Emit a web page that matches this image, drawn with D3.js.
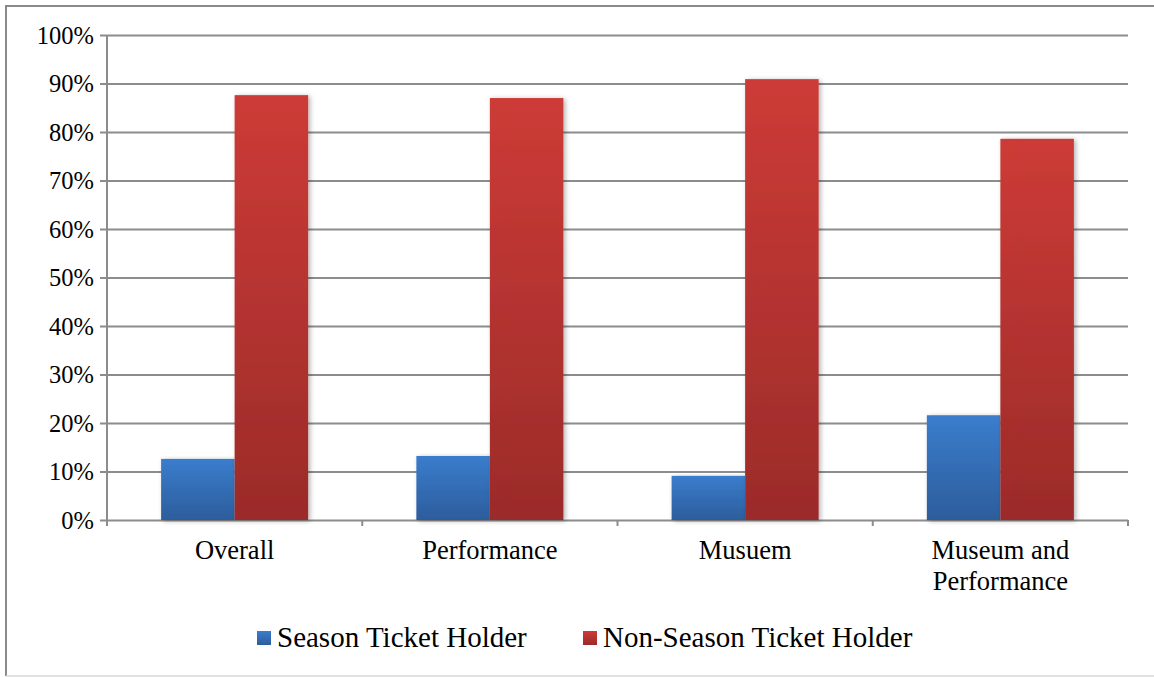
<!DOCTYPE html>
<html>
<head>
<meta charset="utf-8">
<script src="https://cdn.jsdelivr.net/npm/d3@7"></script>
<style>
  html, body { margin: 0; padding: 0; background: #fff; }
  svg { display: block; }
</style>
</head>
<body>
<svg id="chart" width="1154" height="677"></svg>
<script>
// Share of visitors by ticket type, per venue segment
const categories = ["Overall", "Performance", "Musuem", "Museum and Performance"];
const categoryLines = [["Overall"], ["Performance"], ["Musuem"], ["Museum and", "Performance"]];
const seriesNames = ["Season Ticket Holder", "Non-Season Ticket Holder"];
const seasonValues = [12.6, 13.2, 9.1, 21.6];
const nonSeasonValues = [87.6, 87.0, 90.9, 78.6];
const yTicks = [0, 10, 20, 30, 40, 50, 60, 70, 80, 90, 100];

const FONT = '"Liberation Serif", Tinos, "Times New Roman", serif';
const svg = d3.select("#chart").style("font-family", FONT);
const W = 1154, H = 677;
const m = { left: 107, right: 1128, top: 35, bottom: 520 };

// gradients and soft shadow
const defs = svg.append("defs");
const grads = [
  { id: "gBlue", top: "#3b7dcd", bottom: "#2c5d9c" },
  { id: "gRed", top: "#cd3b37", bottom: "#9b2b29" }
];
grads.forEach(g => {
  const lg = defs.append("linearGradient").attr("id", g.id)
    .attr("x1", 0).attr("y1", 0).attr("x2", 0).attr("y2", 1);
  lg.append("stop").attr("offset", "0%").attr("stop-color", g.top);
  lg.append("stop").attr("offset", "100%").attr("stop-color", g.bottom);
});
const f = defs.append("filter").attr("id", "shadow")
  .attr("x", "-20%").attr("y", "-5%").attr("width", "150%").attr("height", "115%");
f.append("feGaussianBlur").attr("in", "SourceAlpha").attr("stdDeviation", 2.5).attr("result", "b");
f.append("feOffset").attr("in", "b").attr("dx", 2).attr("dy", 1).attr("result", "o");
f.append("feComponentTransfer").attr("in", "o").attr("result", "s")
  .append("feFuncA").attr("type", "linear").attr("slope", 0.3);
const fm = f.append("feMerge");
fm.append("feMergeNode").attr("in", "s");
fm.append("feMergeNode").attr("in", "SourceGraphic");

// outer frame
svg.append("path")
  .attr("d", `M6,${H - 1} L6,6 L${W + 2},6`)
  .attr("fill", "none").attr("stroke", "#8a8a8a").attr("stroke-width", 2);
svg.append("line").attr("x1", 6).attr("x2", W).attr("y1", H - 1).attr("y2", H - 1)
  .attr("stroke", "#d9d9d9").attr("stroke-width", 1.5);

const y = d3.scaleLinear().domain([0, 100]).range([m.bottom, m.top]);
const x0 = d3.scaleBand().domain(categories).range([m.left, m.right]).padding(0);
const x1 = d3.scaleBand().domain(seriesNames)
  .range([x0.bandwidth() * 0.212, x0.bandwidth() * 0.788]).padding(0);

// gridlines and y axis
const yAxis = d3.axisLeft(y).tickValues(yTicks).tickFormat(d => d + "%")
  .tickSize(-(m.right - m.left)).tickPadding(13);
const gy = svg.append("g").attr("transform", `translate(${m.left},0)`).call(yAxis);
gy.attr("font-family", null).attr("font-size", null);
gy.select(".domain").remove();
gy.selectAll(".tick line").attr("stroke", "#8c8c8c").attr("stroke-width", 2)
  .attr("x1", -7);
gy.selectAll(".tick text")
  .style("font-family", FONT).style("font-size", "24.5px")
  .attr("fill", "#000").attr("dy", "0.33em");

// vertical axis line
svg.append("line").attr("x1", m.left).attr("x2", m.left).attr("y1", m.top).attr("y2", m.bottom + 6)
  .attr("stroke", "#8c8c8c").attr("stroke-width", 2);

// category ticks on the baseline
const catEdges = categories.map(c => x0(c)).concat([x0(categories[categories.length - 1]) + x0.bandwidth()]);
svg.append("g").selectAll("line").data(catEdges).join("line")
  .attr("x1", d => d).attr("x2", d => d)
  .attr("y1", m.bottom).attr("y2", m.bottom + 6)
  .attr("stroke", "#8c8c8c").attr("stroke-width", 2);

// bars
const rows = categories.map((c, i) => ({ cat: c, vals: [seasonValues[i], nonSeasonValues[i]] }));
const groups = svg.append("g").selectAll("g").data(rows).join("g")
  .attr("transform", d => `translate(${x0(d.cat)},0)`);
groups.selectAll("rect")
  .data(d => d.vals.map((v, k) => ({ v, k })))
  .join("rect")
  .attr("x", d => x1(seriesNames[d.k]))
  .attr("width", x1.bandwidth())
  .attr("y", d => y(d.v))
  .attr("height", d => y(0) - y(d.v))
  .attr("fill", d => d.k === 0 ? "url(#gBlue)" : "url(#gRed)")
  .attr("filter", "url(#shadow)");

// category labels
const lab = svg.append("g").selectAll("text").data(categories).join("text")
  .attr("x", c => x0(c) + x0.bandwidth() / 2)
  .attr("y", 559)
  .attr("text-anchor", "middle")
  .attr("fill", "#000")
  .style("font-family", FONT).style("font-size", "26.5px");
lab.each(function (c, i) {
  d3.select(this).selectAll("tspan").data(categoryLines[i]).join("tspan")
    .attr("x", x0(c) + x0.bandwidth() / 2)
    .attr("dy", (d, j) => j === 0 ? 0 : 31)
    .text(d => d);
});

// legend
const legendItems = [
  { name: seriesNames[0], fill: "url(#gBlue)", x: 257 },
  { name: seriesNames[1], fill: "url(#gRed)", x: 583 }
];
const lg = svg.append("g").selectAll("g").data(legendItems).join("g")
  .attr("transform", d => `translate(${d.x},0)`);
lg.append("rect").attr("x", 0).attr("y", 631).attr("width", 14).attr("height", 14)
  .attr("fill", d => d.fill);
lg.append("text").attr("x", 20).attr("y", 647).attr("fill", "#000")
  .style("font-family", FONT).style("font-size", "29px")
  .text(d => d.name);
</script>
</body>
</html>
